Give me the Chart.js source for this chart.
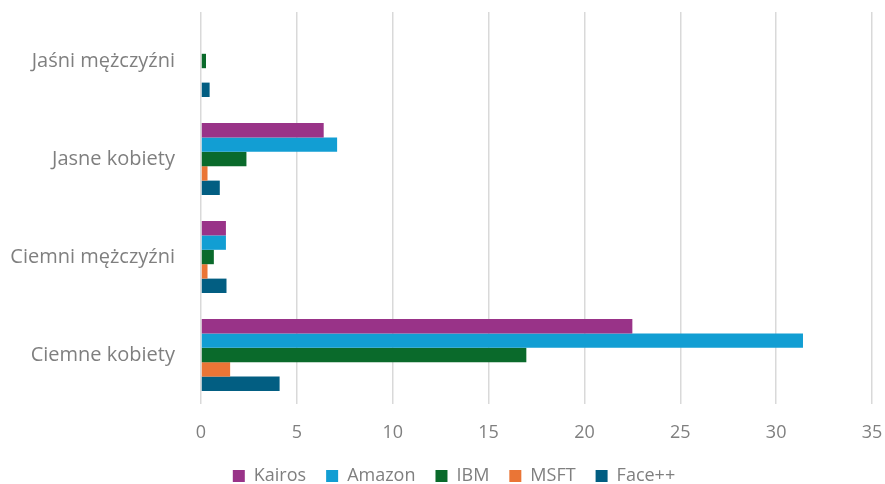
<!DOCTYPE html>
<html><head><meta charset="utf-8">
<script src="https://cdn.jsdelivr.net/npm/chart.js@4"></script>
<style>html,body{margin:0;padding:0;background:#fff;}#wrap{width:885px;height:484px;}</style>
</head><body><div id="wrap"><canvas id="c"></canvas></div>
<script>
const categories = ["Jaśni mężczyźni", "Jasne kobiety", "Ciemni mężczyźni", "Ciemne kobiety"];
const seriesNames = ["Kairos", "Amazon", "IBM", "MSFT", "Face++"];
const kairos = [0, 6.4, 1.3, 22.5];
const amazon = [0, 7.1, 1.3, 31.4];
const ibm = [0.26, 2.37, 0.67, 16.97];
const msft = [0, 0.34, 0.34, 1.52];
const facepp = [0.45, 0.98, 1.33, 4.1];
const xTicks = [0, 5, 10, 15, 20, 25, 30, 35];
const colors = ["#993388", "#129ED3", "#0A6A2B", "#EA7536", "#025E82"];
const values = [kairos, amazon, ibm, msft, facepp];

Chart.defaults.font.family = "'Open Sans', sans-serif";
Chart.defaults.color = "#7f7f7f";

const legendShift = {
  id: 'legendShift',
  afterLayout(chart) {
    if (chart.legend) { chart.legend.left += 18; chart.legend.right += 18; }
  }
};

new Chart(document.getElementById('c'), {
  type: 'bar',
  data: {
    labels: categories,
    datasets: seriesNames.map((n, i) => ({
      label: n, data: values[i], backgroundColor: colors[i], borderWidth: 0,
      categoryPercentage: 0.735, barPercentage: 1.0
    }))
  },
  plugins: [legendShift],
  options: {
    indexAxis: 'y',
    responsive: true, maintainAspectRatio: false, animation: false,
    layout: { padding: { top: 12, right: 13, left: 0, bottom: -11 } },
    plugins: {
      legend: { position: 'bottom', labels: { boxWidth: 12, boxHeight: 12, padding: 20, font: { size: 18 }, color: '#7f7f7f' } },
      tooltip: { enabled: false }
    },
    scales: {
      x: {
        min: 0, max: 35,
        afterBuildTicks: s => { s.ticks = xTicks.map(v => ({ value: v })); },
        grid: { color: '#d9d9d9', lineWidth: 1.5, drawTicks: false },
        border: { display: false },
        ticks: { padding: 18, font: { size: 18 }, color: '#7f7f7f' },
        afterFit: s => { s.height = 43; s.paddingLeft = 0; s.paddingRight = 0; }
      },
      y: {
        grid: { display: false },
        border: { display: false },
        ticks: { padding: 18, font: { size: 20 }, color: '#7f7f7f' },
        afterFit: s => { s.width = 201; s.paddingTop = 0; s.paddingBottom = 0; }
      }
    }
  }
});
</script></body></html>
